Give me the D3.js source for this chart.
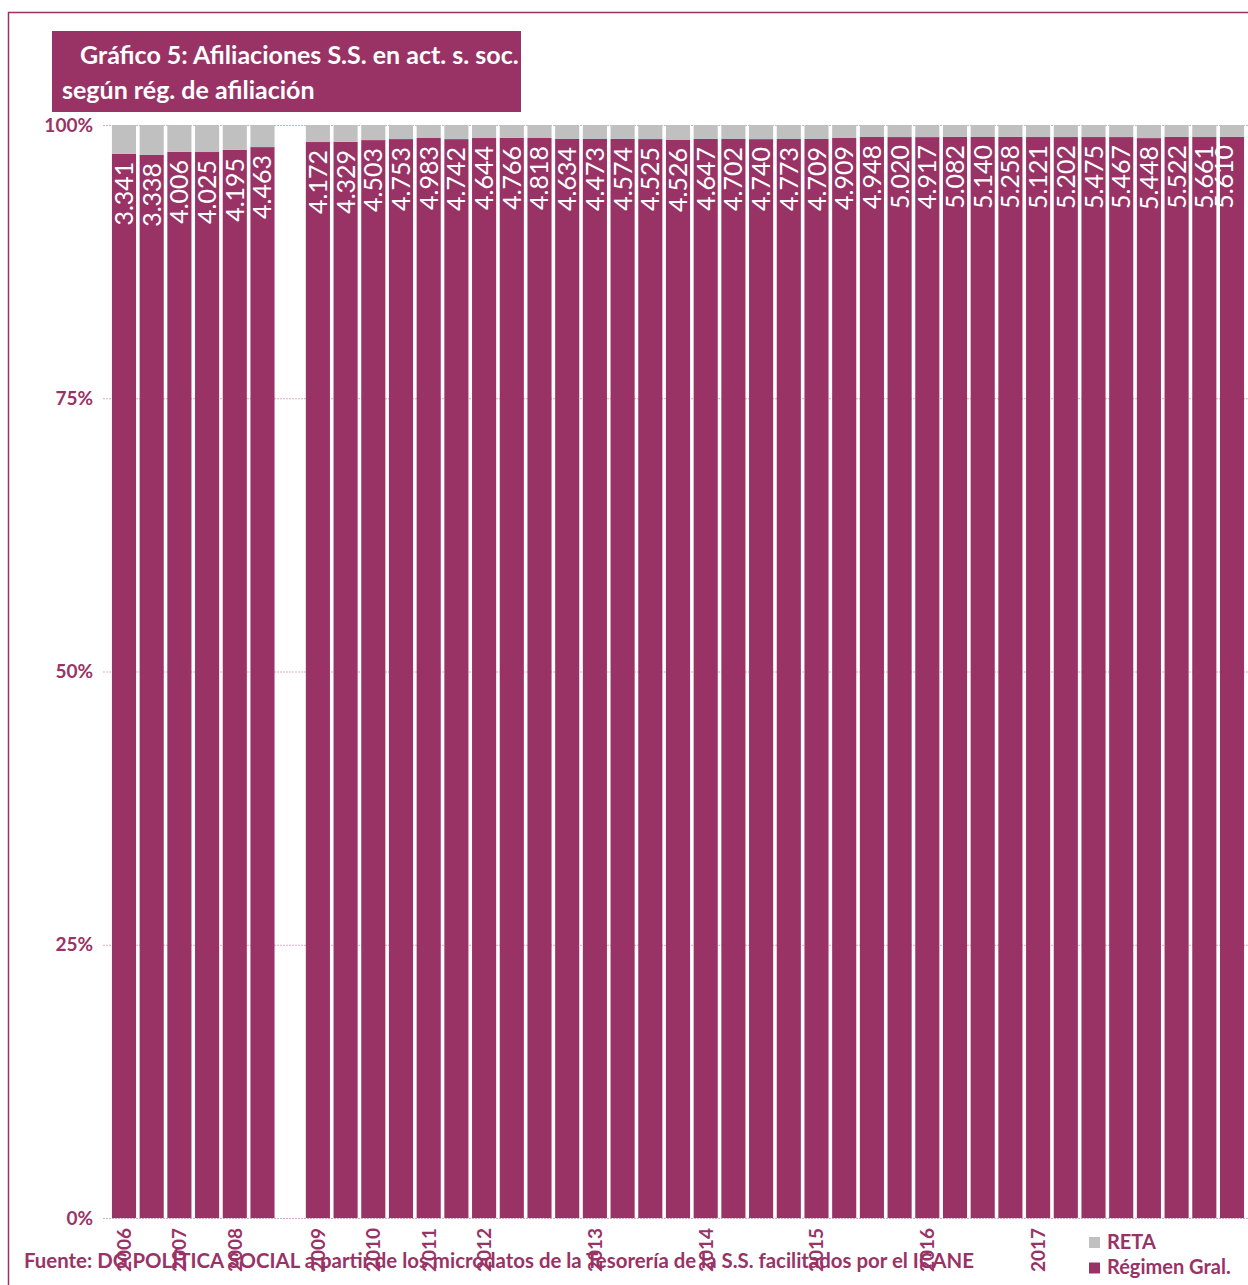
<html lang="es">
<head>
<meta charset="utf-8">
<title>Afiliaciones S.S. según rég. de afiliación</title>
<script src="https://d3js.org/d3.v7.min.js" charset="utf-8"></script>
<style>
  body { margin: 0; background: #fff; font-family: "Lato", "Open Sans", sans-serif; }
  svg text { font-family: "Lato", "Open Sans", sans-serif; }
</style>
</head>
<body>
<script>
// periods (semesters up to 2011, quarters from 2012); "gap" is the empty slot
var periods = ["2006-1","2006-2","2007-1","2007-2","2008-1","2008-2","gap",
  "2009-1","2009-2","2010-1","2010-2","2011-1","2011-2",
  "2012-1","2012-2","2012-3","2012-4","2013-1","2013-2","2013-3","2013-4",
  "2014-1","2014-2","2014-3","2014-4","2015-1","2015-2","2015-3","2015-4",
  "2016-1","2016-2","2016-3","2016-4","2017-1","2017-2","2017-3","2017-4",
  "2018-1","2018-2","2018-3","2018-4"]

var yearLabels = ["2006","2007","2008","2009","2010","2011","2012","2013","2014","2015","2016","2017"]

// Régimen General affiliations (labelled values)
var regGral = [3341,3338,4006,4025,4195,4463,null,
  4172,4329,4503,4753,4983,4742,
  4644,4766,4818,4634,4473,4574,4525,4526,
  4647,4702,4740,4773,4709,4909,4948,5020,
  4917,5082,5140,5258,5121,5202,5475,5467,
  5448,5522,5661,5610]

// RETA affiliations (estimated from the grey share)
var reta = [90,94,101,102,98,92,null,
  66,68,63,62,60,62,
  56,57,58,60,58,59,59,63,
  60,61,62,62,61,59,55,56,
  55,56,57,58,57,58,61,61,
  66,61,63,62]

var yTicks = [0, 0.25, 0.5, 0.75, 1]

var width = 1248
var height = 1285
var purple = "#993366"
var grey = "#c0c0c0"

var svg = d3.select("body").append("svg")
  .attr("width", width)
  .attr("height", height)

// outer frame
svg.append("rect")
  .attr("x", 8.5).attr("y", 12.5)
  .attr("width", width + 20).attr("height", height + 20)
  .attr("fill", "none")
  .attr("stroke", purple)
  .attr("stroke-width", 1.5)

var x = d3.scaleBand()
  .domain(periods)
  .range([110, 1246])
  .paddingInner(0.13)
  .paddingOuter(0.07)

var y = d3.scaleLinear()
  .domain([0, 1])
  .range([1218, 125])

var numFmt = d3.formatLocale({decimal: ",", thousands: ".", grouping: [3], currency: ["", " €"]}).format(",d")

// gridlines
svg.append("g").selectAll("line")
  .data(yTicks)
  .join("line")
  .attr("x1", 103).attr("x2", 1248)
  .attr("y1", function(d) { return y(d) + 0.5 })
  .attr("y2", function(d) { return y(d) + 0.5 })
  .attr("stroke", "#dca9c2")
  .attr("stroke-width", 1)
  .attr("stroke-dasharray", "2,1")

// y axis labels
svg.append("g").selectAll("text")
  .data(yTicks)
  .join("text")
  .attr("x", 93)
  .attr("y", function(d) { return y(d) })
  .attr("dy", "0.35em")
  .attr("text-anchor", "end")
  .attr("fill", purple)
  .attr("font-weight", "bold")
  .attr("font-size", "19px")
  .text(function(d) { return d3.format(".0%")(d) })

var rows = periods.map(function(p, i) {
  return {p: p, reg: regGral[i], reta: reta[i]}
}).filter(function(d) { return d.reg != null })

var bars = svg.append("g")

// Régimen General part (bottom)
bars.selectAll("rect.reg")
  .data(rows)
  .join("rect")
  .attr("class", "reg")
  .attr("x", function(d) { return x(d.p) })
  .attr("width", x.bandwidth())
  .attr("y", function(d) { return y(d.reg / (d.reg + d.reta)) })
  .attr("height", function(d) { return y(0) - y(d.reg / (d.reg + d.reta)) })
  .attr("fill", purple)

// RETA part (top)
bars.selectAll("rect.reta")
  .data(rows)
  .join("rect")
  .attr("class", "reta")
  .attr("x", function(d) { return x(d.p) })
  .attr("width", x.bandwidth())
  .attr("y", y(1))
  .attr("height", function(d) { return y(d.reg / (d.reg + d.reta)) - y(1) })
  .attr("fill", grey)

// value labels
svg.append("g").selectAll("text")
  .data(rows)
  .join("text")
  .attr("transform", function(d) {
    var cx = Math.min(x(d.p) + x.bandwidth() / 2, x.range()[1] - 22)
    return "translate(" + cx + "," + (y(d.reg / (d.reg + d.reta)) + 8) + ") rotate(-90)"
  })
  .attr("dy", "0.36em")
  .attr("text-anchor", "end")
  .attr("fill", "#fff")
  .attr("font-size", "25px")
  .text(function(d) { return numFmt(d.reg) })

// year labels under the first period of each year
svg.append("g").selectAll("text")
  .data(yearLabels)
  .join("text")
  .attr("transform", function(d) {
    var p = periods.find(function(q) { return q.indexOf(d) == 0 })
    return "translate(" + (x(p) + x.bandwidth() / 2) + ",1228) rotate(-90)"
  })
  .attr("dy", "0.36em")
  .attr("text-anchor", "end")
  .attr("fill", purple)
  .attr("font-weight", "bold")
  .attr("font-size", "19px")
  .text(function(d) { return d })

// title box
svg.append("rect")
  .attr("x", 52).attr("y", 31)
  .attr("width", 469).attr("height", 81)
  .attr("fill", purple)
svg.append("text")
  .attr("x", 80).attr("y", 64)
  .attr("fill", "#fff").attr("font-weight", "bold").attr("font-size", "25px")
  .text("Gráfico 5: Afiliaciones S.S. en act. s. soc.")
svg.append("text")
  .attr("x", 62).attr("y", 99)
  .attr("fill", "#fff").attr("font-weight", "bold").attr("font-size", "25px")
  .text("según rég. de afiliación")

// source
svg.append("text")
  .attr("x", 24).attr("y", 1268)
  .attr("fill", purple).attr("font-weight", "bold").attr("font-size", "20.4px")
  .text("Fuente: DG POLÍTICA SOCIAL a partir de los microdatos de la Tesorería de la S.S. facilitados por el ICANE")

// legend
var legend = [{name: "RETA", color: grey}, {name: "Régimen Gral.", color: purple}]
var lg = svg.append("g").selectAll("g")
  .data(legend)
  .join("g")
  .attr("transform", function(d, i) { return "translate(1089," + (1237 + i * 25.5) + ")" })
lg.append("rect")
  .attr("width", 11).attr("height", 11)
  .attr("fill", function(d) { return d.color })
lg.append("text")
  .attr("x", 18).attr("y", 11.5)
  .attr("fill", purple).attr("font-weight", "bold").attr("font-size", "20px")
  .text(function(d) { return d.name })
</script>
</body>
</html>
